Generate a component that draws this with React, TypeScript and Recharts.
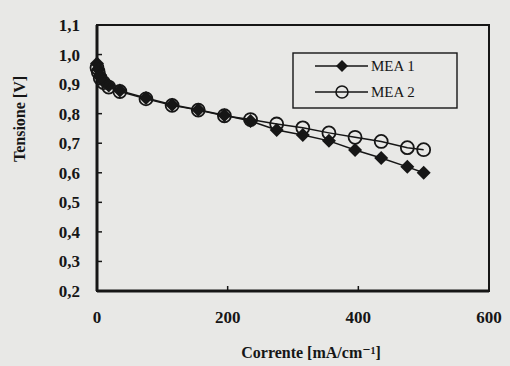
import { Line, LineChart, ReferenceArea, XAxis, YAxis } from "recharts";

// current density [mA/cm]
const current = [0, 2, 5, 10, 18, 35, 75, 115, 155, 195, 235, 275, 315, 355, 395, 435, 475, 500];
const mea1 = [0.97, 0.95, 0.93, 0.91, 0.895, 0.878, 0.853, 0.83, 0.813, 0.795, 0.775, 0.745, 0.728, 0.708, 0.677, 0.65, 0.62, 0.6];
const mea2 = [0.955, 0.94, 0.92, 0.905, 0.89, 0.875, 0.85, 0.828, 0.812, 0.793, 0.78, 0.765, 0.752, 0.735, 0.72, 0.706, 0.685, 0.678];

const xTicks = [0, 200, 400, 600];
const yTicks = [0.2, 0.3, 0.4, 0.5, 0.6, 0.7, 0.8, 0.9, 1.0, 1.1];

const INK = "#161616";
const FONT = "'Liberation Serif', 'DejaVu Serif', serif";

const data = current.map((c, i) => ({ c, mea1: mea1[i], mea2: mea2[i] }));

function Diamond(props: any) {
  const { cx, cy } = props;
  if (cx == null || cy == null) return null;
  const s = 7;
  return (
    <polygon
      points={`${cx},${cy - s} ${cx + s},${cy} ${cx},${cy + s} ${cx - s},${cy}`}
      fill={INK}
    />
  );
}

function Ring(props: any) {
  const { cx, cy } = props;
  if (cx == null || cy == null) return null;
  return <circle cx={cx} cy={cy} r={6.5} fill="none" stroke={INK} strokeWidth={1.8} />;
}

// legend drawn as an overlay so it does not eat plot space
function LegendBox() {
  const row = (y: number, filled: boolean, label: string) => (
    <g>
      <line x1={23} y1={y} x2={76} y2={y} stroke={INK} strokeWidth={1.6} />
      {filled ? (
        <polygon points={`50,${y - 6} 56,${y} 50,${y + 6} 44,${y}`} fill={INK} />
      ) : (
        <circle cx={50} cy={y} r={6} fill="none" stroke={INK} strokeWidth={1.6} />
      )}
      <text x={79} y={y + 5} fontSize={15} fontFamily={FONT} fill={INK}>
        {label}
      </text>
    </g>
  );
  return (
    <svg
      width={166}
      height={57}
      style={{ position: "absolute", left: 292, top: 52, display: "block" }}
    >
      <rect x={1} y={1} width={164} height={55} fill="none" stroke={INK} strokeWidth={1.4} />
      {row(14, true, "MEA 1")}
      {row(40, false, "MEA 2")}
    </svg>
  );
}

export default function App() {
  return (
    <div
      style={{
        position: "absolute",
        left: 0,
        top: 0,
        width: 510,
        height: 366,
        background: "#e8e8e6",
      }}
    >
      <LineChart
        width={510}
        height={366}
        data={data}
        margin={{ top: 25, right: 21, bottom: 35, left: 0 }}
      >
        <XAxis
          dataKey="c"
          type="number"
          domain={[0, 600]}
          ticks={xTicks}
          height={40}
          tickSize={-5}
          tickMargin={25}
          tick={{ fill: INK, fontSize: 17, fontFamily: FONT, fontWeight: 700 }}
          axisLine={{ stroke: INK, strokeWidth: 3 }}
          tickLine={{ stroke: INK, strokeWidth: 1.5 }}
          label={{
            value: "Corrente [mA/cm⁻¹]",
            position: "insideBottom",
            offset: -27,
            dx: 18,
            fill: INK,
            fontSize: 16,
            fontFamily: FONT,
            fontWeight: 700,
          }}
        />
        <YAxis
          type="number"
          domain={[0.2, 1.1]}
          ticks={yTicks}
          width={97}
          tickSize={-5}
          tickMargin={22}
          tickFormatter={(v: number) => v.toFixed(1).replace(".", ",")}
          tick={{ fill: INK, fontSize: 17, fontFamily: FONT, fontWeight: 700 }}
          axisLine={{ stroke: INK, strokeWidth: 3 }}
          tickLine={{ stroke: INK, strokeWidth: 1.5 }}
          label={{
            value: "Tensione [V]",
            angle: -90,
            position: "insideLeft",
            offset: 19,
            dy: 4,
            fill: INK,
            fontSize: 16,
            fontFamily: FONT,
            fontWeight: 700,
          }}
        />
        <ReferenceArea
          x1={0}
          x2={600}
          y1={0.2}
          y2={1.1}
          fill="none"
          stroke={INK}
          strokeWidth={2}
          fillOpacity={0}
        />
        <Line
          dataKey="mea1"
          type="linear"
          stroke={INK}
          strokeWidth={1.5}
          dot={<Diamond />}
          activeDot={false}
          isAnimationActive={false}
        />
        <Line
          dataKey="mea2"
          type="linear"
          stroke={INK}
          strokeWidth={1.5}
          dot={<Ring />}
          activeDot={false}
          isAnimationActive={false}
        />
      </LineChart>
      <LegendBox />
    </div>
  );
}
